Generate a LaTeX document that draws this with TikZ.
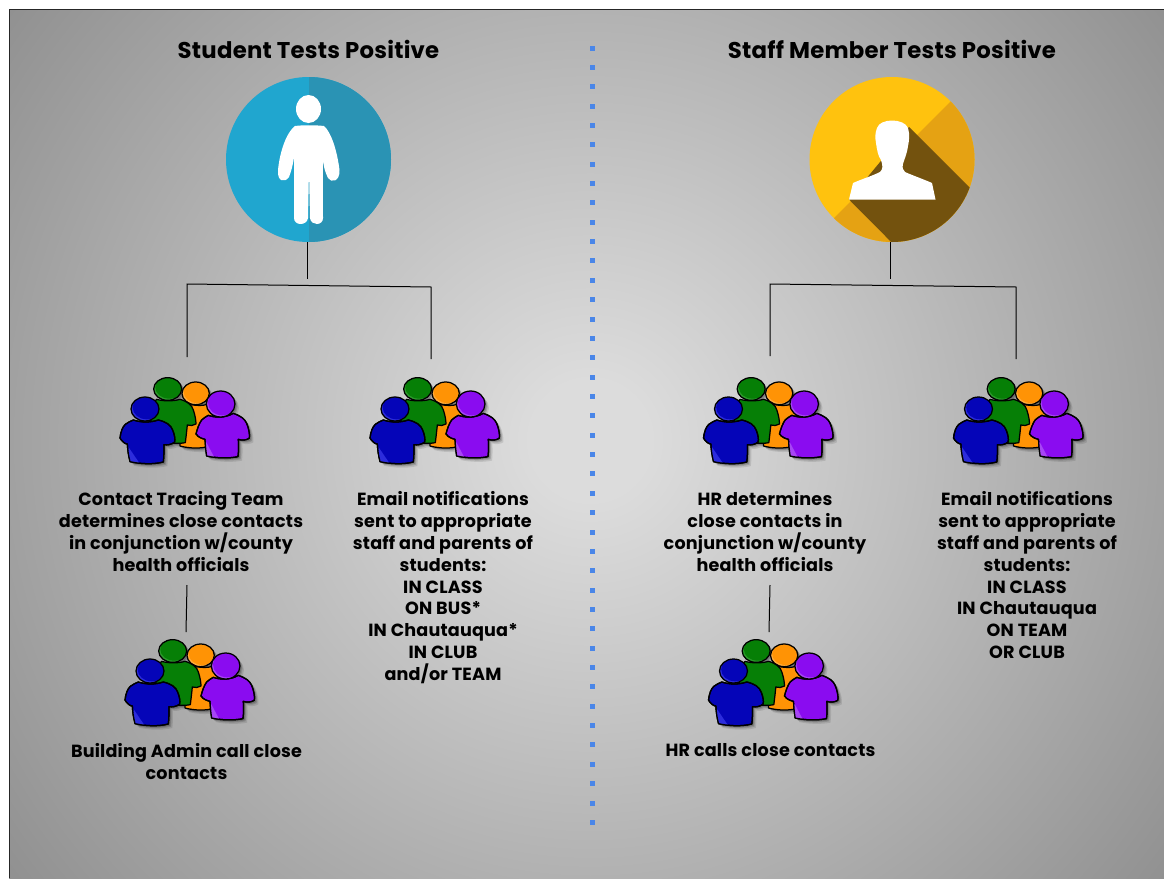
\documentclass[tikz,border=0pt]{standalone}
\usepackage{fontspec}
\setmainfont{Poppins}[LetterSpace=1.0]
\usetikzlibrary{calc}
\definecolor{bgA}{HTML}{DCDCDC}
\definecolor{bgB}{HTML}{8F8F8F}
\pgfdeclareradialshading{bgglow}{\pgfpoint{0bp}{0bp}}{
  color(0bp)=(bgA); color(2bp)=(bgA); color(25bp)=(bgB); color(50bp)=(bgB)}
\definecolor{stuA}{HTML}{20A6CF}
\definecolor{stuB}{HTML}{2A93B4}
\definecolor{stafA}{HTML}{FFC20E}
\definecolor{stafB}{HTML}{E5A213}
\definecolor{stafC}{HTML}{73520E}
\definecolor{dotc}{HTML}{4A86E8}
\definecolor{pBlue}{HTML}{0505B8}
\definecolor{pBlueL}{HTML}{2C2CDC}
\definecolor{pGreen}{HTML}{067F06}
\definecolor{pGreenL}{HTML}{2A9A2A}
\definecolor{pOrange}{HTML}{FF9305}
\definecolor{pOrangeL}{HTML}{FFAC3C}
\definecolor{pPurple}{HTML}{8A0CF0}
\definecolor{pPurpleL}{HTML}{A745F5}
\newcommand{\headblue}{(135,147) ellipse [x radius=42,y radius=36]}
\newcommand{\bodyblue}{(100,180) .. controls (125,188) and (150,188) .. (175,180) .. controls (200,186) and (212,195) .. (218,210) .. controls (224,225) and (226,238) .. (224,246) .. controls (215,254) and (202,256) .. (192,254) .. controls (192,275) and (192,290) .. (190,306) .. controls (160,314) and (120,312) .. (90,305) .. controls (85,285) and (83,270) .. (82,252) .. controls (75,252) and (65,244) .. (60,234) .. controls (62,215) and (68,200) .. (76,193) .. controls (84,187) and (92,183) .. (100,180) -- cycle}
\newcommand{\headgreen}{(203,87) ellipse [x radius=42,y radius=34]}
\newcommand{\bodygreen}{(170,118) .. controls (190,124) and (220,124) .. (240,118) .. controls (262,124) and (276,135) .. (280,150) .. controls (285,165) and (288,180) .. (288,192) .. controls (280,197) and (270,198) .. (262,195) .. controls (260,215) and (258,232) .. (256,248) .. controls (235,252) and (210,250) .. (180,245) -- (150,175) .. controls (155,145) and (160,125) .. (170,118) -- cycle}
\newcommand{\headorange}{(287,100) ellipse [x radius=41,y radius=34]}
\newcommand{\bodyorange}{(255,130) .. controls (285,138) and (310,138) .. (325,132) .. controls (335,145) and (340,165) .. (340,200) -- (315,262) .. controls (290,266) and (262,264) .. (240,258) -- (240,180) -- cycle}
\newcommand{\headpurple}{(362,132) ellipse [x radius=43,y radius=39]}
\newcommand{\bodypurple}{(325,166) .. controls (350,175) and (380,172) .. (400,160) .. controls (422,168) and (434,176) .. (440,190) .. controls (446,205) and (450,222) .. (448,235) .. controls (438,241) and (425,242) .. (415,238) .. controls (416,258) and (416,275) .. (414,290) .. controls (385,296) and (345,294) .. (320,288) .. controls (317,270) and (316,252) .. (315,238) .. controls (306,236) and (295,232) .. (288,222) .. controls (292,205) and (298,190) .. (305,180) .. controls (311,174) and (318,170) .. (325,166) -- cycle}
% head: light crescent at lower left under the main colour
\newcommand{\personhead}[5]{%
  \begin{scope}\clip (#1,#2) ellipse [x radius=#3,y radius=#4];
    \fill[#5L] (#1-50,#2-50) rectangle (#1+50,#2+50);
    \fill[#5] (#1+5,#2-5) ellipse [x radius=#3,y radius=#4];
  \end{scope}
  \draw[peopleline] (#1,#2) ellipse [x radius=#3,y radius=#4];}
\tikzset{
  x=1pt,y=-1pt,
  peopleline/.style={draw=black,line width=1.25pt,line join=round},
  conn/.style={draw=black,line width=1pt},
  lbl/.style={font=\bfseries\fontsize{17.6}{21.8}\selectfont,align=center,text=black,inner sep=0pt},
  ttl/.style={font=\bfseries\fontsize{22.8}{26}\selectfont,text=black,inner sep=0pt},
  disc/.style={circle,inner sep=0pt,minimum size=165pt,draw=none},
  dotsq/.style={fill=dotc,draw=none},
  peoplegroup/.pic={
    \begin{scope}[scale=0.3333]
      \foreach \o/\w in {12/.10,8/.14,5/.18}{
        \fill[black,opacity=\w,shift={(\o,\o)}] \headorange \headgreen \headpurple \headblue \bodyorange \bodygreen \bodypurple \bodyblue;
      }
      \filldraw[peopleline,fill=pOrange] \bodyorange;
      \personhead{287}{100}{41}{34}{pOrange}
      \filldraw[peopleline,fill=pGreen] \bodygreen;
      \personhead{203}{87}{42}{34}{pGreen}
      \filldraw[peopleline,fill=pPurple] \bodypurple;
      \begin{scope}\clip \bodypurple; \fill[pPurpleL] (318,245) -- (345,296) -- (310,296) -- cycle; \end{scope}
      \draw[peopleline] \bodypurple;
      \personhead{362}{132}{43}{39}{pPurple}
      \filldraw[peopleline,fill=pBlue] \bodyblue;
      \begin{scope}\clip \bodyblue; \fill[pBlueL] (86,262) -- (122,315) -- (80,315) -- cycle; \end{scope}
      \draw[peopleline] \bodyblue;
      \personhead{135}{147}{42}{36}{pBlue}
    \end{scope}
  }
}
\begin{document}
\begin{tikzpicture}
\useasboundingbox (0,0) rectangle (1164,878);
\fill[white] (0,0) rectangle (1164,878);
\begin{scope}
  \clip (9,9) rectangle (1164,878);
  \shade[shading=bgglow] (590,440) circle (740);
\end{scope}
\draw[black!85,line width=1.2pt] (9.5,878) -- (9.5,9.5) -- (1164,9.5);

\foreach \i in {0,...,40}{
  \fill[dotsq] ($(589.5,45.5)+(0,\i*19.36)$) rectangle +(5,5);
}

\node[ttl] (tstudent) at (308.5,49) {Student Tests Positive};
\node[ttl] (tstaff) at (892,49) {Staff Member Tests Positive};

% student disc
\node[disc,fill=stuA] (student) at (308.5,159.5) {};
\begin{scope}
  \clip (student.center) circle (82.5);
  \fill[stuB] (309,70) rectangle (400,250);
\end{scope}
\fill[white] (308.5,109) ellipse [x radius=12.5,y radius=14];
\fill[white] (295,126) .. controls (303,125) and (315,125) .. (324,126)
  .. controls (331,132) and (337,150) .. (339.5,170)
  .. controls (340,182) and (331,183) .. (328,178)
  .. controls (325,172) and (323,165) .. (322.8,157)
  -- (323,218) .. controls (323,226) and (311,226) .. (310,218) -- (309,170) -- (308,218)
  .. controls (307,226) and (294,226) .. (294,218) -- (294,157)
  .. controls (293,165) and (291,172) .. (289,177)
  .. controls (285,183) and (277,182) .. (278,170)
  .. controls (280,150) and (287,132) .. (295,126) -- cycle;

% staff disc
\node[disc,fill=stafA] (staff) at (892,159.5) {};
\begin{scope}
  \clip (staff.center) circle (82.5);
  \fill[stafB] (835,217) -- (950,102) -- (1000,52) -- (1000,270) -- (785,270) -- cycle;
  \fill[stafC] (909,127) -- (990,208) -- (990,270) -- (919,270) -- (849,199.5) -- cycle;
\end{scope}
\fill[white] (877,128) .. controls (880,118) and (904,118) .. (908,128)
  .. controls (910,134) and (909,142) .. (908,146)
  .. controls (907,154) and (904,160) .. (903,164)
  .. controls (902,168) and (903,170) .. (905,172)
  .. controls (914,176) and (923,179) .. (932,183)
  -- (935.5,199.5) -- (849,199.5) -- (853,183)
  .. controls (862,179) and (872,176) .. (880,172)
  .. controls (883,169) and (883,166) .. (881,160)
  .. controls (878,156) and (877,150) .. (876,143)
  .. controls (875,138) and (875,133) .. (877,128) -- cycle;

% connectors
\coordinate (sa) at (307,279);
\coordinate (sl) at (187,284);
\coordinate (sr) at (431,287);
\coordinate (sle) at (187,357);
\coordinate (sre) at (431,359);
\draw[conn] (307,242) -- (sa);
\draw[conn] (sle) -- (sl) -- (sr) -- (sre);
\coordinate (ta) at (890,279);
\coordinate (tl) at (770,284);
\coordinate (tr) at (1016,287);
\coordinate (tle) at (770,356);
\coordinate (tre) at (1016,359);
\draw[conn] (890,242) -- (ta);
\draw[conn] (tle) -- (tl) -- (tr) -- (tre);

% people groups
\pic at (100,360) {peoplegroup};
\pic at (350,360) {peoplegroup};
\pic at (683.5,360) {peoplegroup};
\pic at (933.5,360) {peoplegroup};
\pic at (105,622) {peoplegroup};
\pic at (688.5,622) {peoplegroup};

% labels
\node[lbl,anchor=north] (a1) at (181,491.5) {Contact Tracing Team\\determines close contacts\\in conjunction w/county\\health officials};
\node[lbl,anchor=north] (a2) at (443,491.5) {Email notifications\\sent to appropriate\\staff and parents of\\students:\\IN CLASS\\ON BUS*\\IN Chautauqua*\\IN CLUB\\and/or TEAM};
\node[lbl,anchor=north] (a3) at (765,491.5) {HR determines\\close contacts in\\conjunction w/county\\health officials};
\node[lbl,anchor=north] (a4) at (1027,491.5) {Email notifications\\sent to appropriate\\staff and parents of\\students:\\IN CLASS\\IN Chautauqua\\ON TEAM\\OR CLUB};
\node[lbl,anchor=north] (a5) at (186.5,743.5) {Building Admin call close\\contacts};
\node[lbl,anchor=north] (a6) at (770.5,743.5) {HR calls close contacts};
\draw[conn] (187,585) coordinate (la) -- (186,632) coordinate (lb);
\draw[conn] (770,585) coordinate (lc) -- (769,632) coordinate (ld);
\end{tikzpicture}
\end{document}
